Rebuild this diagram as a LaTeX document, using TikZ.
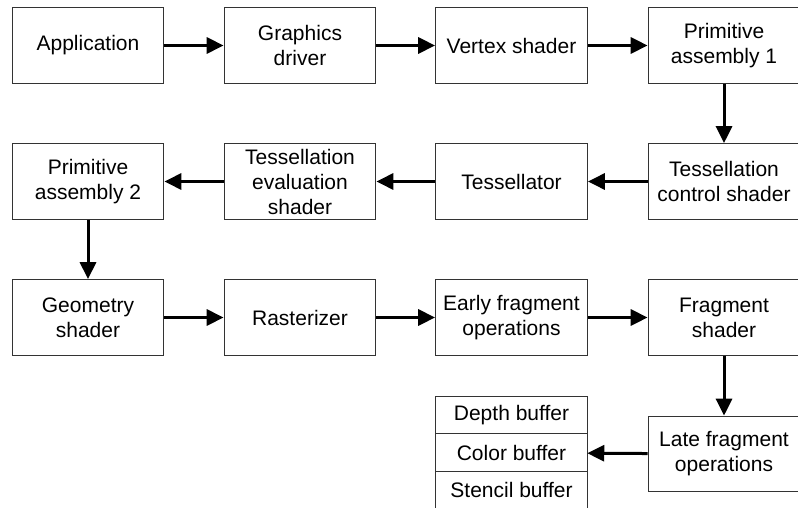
\documentclass[tikz,border=0pt]{standalone}
\usepackage{fontspec}
\setmainfont{Liberation Sans}
\usetikzlibrary{arrows.meta,positioning}
\definecolor{PLEdge}{HTML}{333333}
\tikzset{
  flow/.style={-{Triangle[length=8.5pt,width=8pt]},black,line width=1.5pt},
  stage/.style={draw=PLEdge,line width=0.6pt,fill=white,minimum width=75.75pt,
                minimum height=37.75pt,inner sep=1pt,align=center,
                font=\fontsize{10.5}{12.5}\selectfont},
  bufcell/.style={stage,minimum height=18.85pt,outer sep=0pt},
}

\begin{document}
\begin{tikzpicture}[x=0.5pt,y=-0.5pt]
    \useasboundingbox (0,0) rectangle (798,508);
    % first row
    \node[stage] (app) at (88,45.5) {Application};
    \node[stage] (driver) at (300,45.5) {Graphics\\driver};
    \node[stage] (vertex) at (511.5,45.5) {Vertex shader};
    \node[stage] (prim1) at (724,45.5) {Primitive\\assembly 1};
    % second row
    \node[stage] (tcs) at (724,181.5) {Tessellation\\control shader};
    \node[stage] (tessel) at (511.5,181.5) {Tessellator};
    \node[stage] (tes) at (300,181.5) {Tessellation\\evaluation\\shader};
    \node[stage] (prim2) at (88,181.5) {Primitive\\assembly 2};
    % third row
    \node[stage] (geom) at (88,317.5) {Geometry\\shader};
    \node[stage] (raster) at (300,317.5) {Rasterizer};
    \node[stage] (earlyfrag) at (511.5,317.5) {Early fragment\\operations};
    \node[stage] (fragsh) at (724,317.5) {Fragment\\shader};
    % last row
    \node[stage] (latefrag) at (724,454) {Late fragment\\operations};
    \node[bufcell] (depth) at (511.5,415) {Depth buffer};
    \node[bufcell,below=0pt of depth] (color) {Color buffer};
    \node[bufcell,below=0pt of color] (stencil) {Stencil buffer};

    \draw[flow] (app)--(driver);
    \draw[flow] (driver)--(vertex);
    \draw[flow] (vertex)--(prim1);
    \draw[flow] (prim1)--(tcs);
    \draw[flow] (tcs)--(tessel);
    \draw[flow] (tessel)--(tes);
    \draw[flow] (tes)--(prim2);
    \draw[flow] (prim2)--(geom);
    \draw[flow] (geom)--(raster);
    \draw[flow] (raster)--(earlyfrag);
    \draw[flow] (earlyfrag)--(fragsh);
    \draw[flow] (fragsh)--(latefrag);
    \draw[flow] (latefrag)--(color);
  \end{tikzpicture}
\end{document}
